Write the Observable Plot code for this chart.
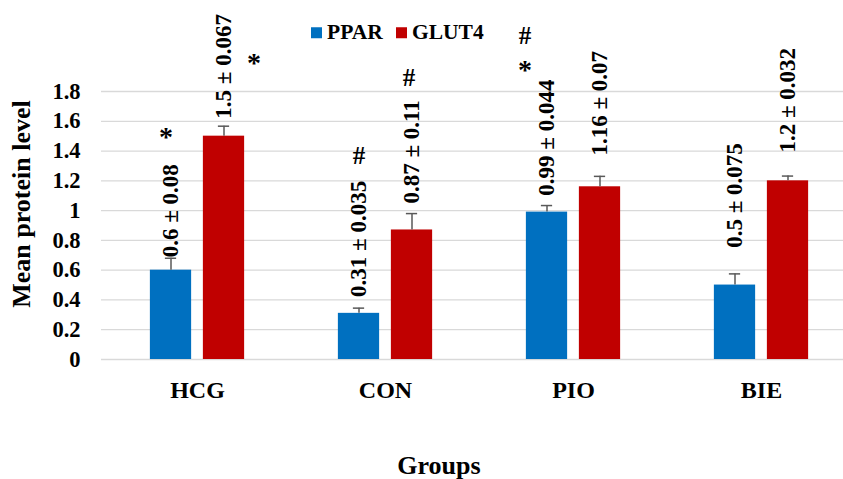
<!DOCTYPE html>
<html><head><meta charset="utf-8">
<script src="https://cdn.jsdelivr.net/npm/d3@7"></script>
<script src="https://cdn.jsdelivr.net/npm/@observablehq/plot@0.6"></script>
<style>
body{margin:0;background:#fff;}
#wrap{position:relative;width:843px;height:479px;overflow:hidden;font-family:"Liberation Serif","Times New Roman",serif;font-weight:bold;color:#000;}
#wrap svg{position:absolute;left:0;top:0;overflow:visible;}
#wrap svg g[aria-label^="x-axis"] text{font-size:24px;}
.abs{position:absolute;white-space:nowrap;line-height:1;}
.ytitle{left:22px;top:204px;transform:translate(-50%,-50%) rotate(-90deg);font-size:26px;}
.xtitle{left:439px;top:466px;transform:translate(-50%,-50%);font-size:26px;}
.legend{top:33px;font-size:21.5px;display:flex;align-items:center;transform:translateY(-50%);}
.sw{display:inline-block;width:11px;height:11px;margin-right:5px;}
</style></head><body><div id="wrap"></div>
<script>
// ---- data ----
const groups = ["HCG", "CON", "PIO", "BIE"];
const series = ["PPAR", "GLUT4"];
const colors = ["#0070C0", "#C00000"];
const pparValues = [0.6, 0.31, 0.99, 0.5];
const pparErrors = [0.08, 0.035, 0.044, 0.075];
const glut4Values = [1.5, 0.87, 1.16, 1.2];
const glut4Errors = [0.067, 0.11, 0.07, 0.032];
const pparLabels = ["0.6 ± 0.08", "0.31 ± 0.035", "0.99 ± 0.044", "0.5 ± 0.075"];
const glut4Labels = ["1.5 ± 0.067", "0.87 ± 0.11", "1.16 ± 0.07", "1.2 ± 0.032"];
const pparLabelAt = [0.686, 0.42, 1.10, 0.75];
const glut4LabelAt = [1.617, 1.047, 1.37, 1.39];
const yTicks = [0, 0.2, 0.4, 0.6, 0.8, 1, 1.2, 1.4, 1.6, 1.8];
const annGroup = ["HCG", "HCG", "CON", "CON", "PIO", "PIO"];
const annSeries = ["PPAR", "GLUT4", "PPAR", "GLUT4", "PPAR", "PPAR"];
const annSymbol = ["*", "*", "#", "#", "*", "#"];
const annAt = [1.493, 1.989, 1.369, 1.892, 1.942, 2.174];

// ---- layout ----
const annNudge = [-5, 30, 0, -3, -22, -22];
const xRange = [101, 856];
const half = (xRange[1] - xRange[0]) / groups.length / 2;
const seriesDx = [-26.5, 26.5];
const barHalf = 21;
const capHalf = 6;
const font = "Liberation Serif, Times New Roman, serif";
const errColor = "#595959";

const tables = [
  {values: pparValues, errors: pparErrors, labels: pparLabels, labelAt: pparLabelAt},
  {values: glut4Values, errors: glut4Errors, labels: glut4Labels, labelAt: glut4LabelAt}
];

const marks = [Plot.ruleY(yTicks, {stroke: "#d9d9d9", strokeWidth: 1.3})];
series.forEach((s, si) => {
  const t = tables[si];
  const rows = groups.map((g, i) => ({group: g, value: t.values[i], top: t.values[i] + t.errors[i], label: t.labels[i], labelAt: t.labelAt[i]}));
  const dx = seriesDx[si];
  marks.push(
    Plot.barY(rows, {x: "group", y: "value", fill: colors[si], insetLeft: half + dx - barHalf, insetRight: half - dx - barHalf}),
    Plot.ruleX(rows, {x: "group", y1: "value", y2: "top", dx, stroke: errColor, strokeWidth: 1.5}),
    Plot.tickY(rows, {x: "group", y: "top", stroke: errColor, strokeWidth: 1.5, insetLeft: half + dx - capHalf, insetRight: half - dx - capHalf}),
    Plot.text(rows, {x: "group", y: "labelAt", text: "label", rotate: -90, textAnchor: "start", dx, fontSize: 23, fontWeight: "bold", fontFamily: font, fill: "#000"})
  );
});
annSymbol.forEach((sym, i) => {
  const si = series.indexOf(annSeries[i]);
  marks.push(Plot.text([{group: annGroup[i], y: annAt[i], t: sym}], {x: "group", y: "y", text: "t", dx: seriesDx[si] + annNudge[i], fontSize: sym === "*" ? 28 : 25, fontWeight: "bold", fontFamily: font, fill: "#000"}));
});

const chart = Plot.plot({
  width: 843,
  height: 420,
  marginTop: 91,
  marginBottom: 61,
  marginLeft: 101,
  marginRight: 0,
  style: {fontFamily: font, fontSize: "22.5px", fontWeight: "bold", color: "#000", background: "transparent"},
  x: {domain: groups, range: xRange, padding: 0, tickSize: 0, tickPadding: 21, label: null},
  y: {domain: [0, 1.8], ticks: yTicks, tickSize: 0, tickPadding: 21, label: null, tickFormat: d => String(d)},
  marks
});

const wrap = document.getElementById("wrap");
wrap.appendChild(chart);

const yt = document.createElement("div");
yt.className = "abs ytitle"; yt.textContent = "Mean protein level"; wrap.appendChild(yt);
const xt = document.createElement("div");
xt.className = "abs xtitle"; xt.textContent = "Groups"; wrap.appendChild(xt);

const legendLefts = [311, 396];
series.forEach((s, i) => {
  const d = document.createElement("div");
  d.className = "abs legend";
  d.style.left = legendLefts[i] + "px";
  const sw = document.createElement("span");
  sw.className = "sw"; sw.style.background = colors[i];
  d.appendChild(sw);
  d.appendChild(document.createTextNode(s));
  wrap.appendChild(d);
});
</script>
</body></html>
